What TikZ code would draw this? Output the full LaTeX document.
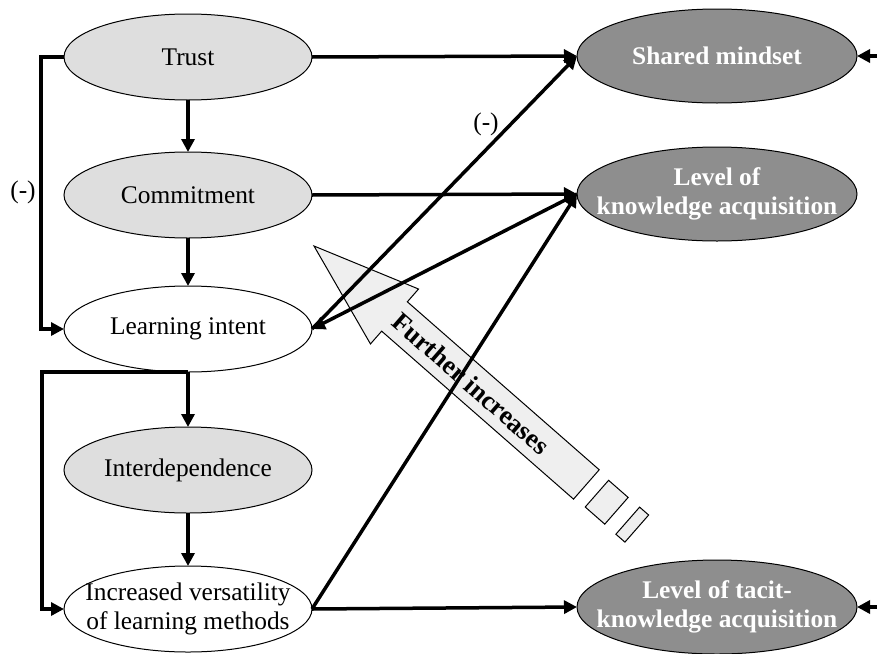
\documentclass[tikz,border=0pt]{standalone}
\usepackage{fontspec}
\setmainfont{Liberation Serif}
\usetikzlibrary{shapes.geometric,arrows.meta}
\definecolor{softgray}{HTML}{DEDEDE}
\definecolor{darkfill}{HTML}{8E8E8E}
\definecolor{bandfill}{HTML}{EFEFEF}
\begin{document}
\begin{tikzpicture}[x=0.5pt,y=-0.5pt,
  font=\fontsize{12.7}{14.5}\selectfont,
  oval/.style={ellipse, draw=black, line width=0.5pt, inner sep=0pt, outer sep=0pt},
  leftoval/.style={oval, minimum width=124pt, minimum height=43pt},
  rightoval/.style={oval, minimum width=140pt, minimum height=47pt, fill=darkfill},
  caption/.style={align=center, inner sep=0pt, text=black},
  wcaption/.style={align=center, inner sep=0pt, text=white, font=\fontsize{12.7}{14.5}\selectfont\bfseries},
  link/.style={line width=1.75pt, -{Triangle[length=6.5pt,width=6.5pt]}},
  band/.style={draw=black, line width=0.5pt, fill=bandfill, line join=miter},
]
\useasboundingbox (0,0) rectangle (877,653);

% left column
\node[leftoval, fill=softgray] (trust) at (188,57) {};
\node[caption] (trust-t) at (trust) {Trust};
\node[leftoval, fill=softgray] (commit) at (188,195) {};
\node[caption] (commit-t) at (commit) {Commitment};
\node[leftoval, fill=white] (intent) at (188,329) {};
\node[caption] (intent-t) at (intent) {Learning intent};
\node[leftoval, fill=softgray] (inter) at (188,470) {};
\node[caption] (inter-t) at (inter) {Interdependence};
\node[leftoval, fill=white] (vers) at (188,609) {};
\node[caption] (vers-t) at (vers) {Increased versatility\\of learning methods};

% right column
\node[rightoval] (mind) at (717,56) {};
\node[wcaption] (mind-t) at (mind) {Shared mindset};
\node[rightoval] (know) at (717,194) {};
\node[wcaption] (know-t) at (know) {Level of\\knowledge acquisition};
\node[rightoval] (tacit) at (717,607) {};
\node[wcaption] (tacit-t) at (tacit) {Level of tacit-\\knowledge acquisition};

\coordinate (mind-in) at (877,56);
\coordinate (tacit-in) at (877,607);

% broad "further increases" arrow
\begin{scope}[shift={(314,246)}, rotate=-41.2]
  \draw[band] (0,0) -- (107,-36.5) -- (107,-19.5) -- (362,-19.5)
    -- (362,19.5) -- (107,19.5) -- (107,36.5) -- cycle;
  \draw[band] (376,-17.75) rectangle (402,17.75);
  \draw[band] (417,-18) rectangle (429,18);
  \node[rotate=-41.2, inner sep=0pt, font=\fontsize{13.3}{15}\selectfont\bfseries]
    (band-t) at (209,0) {Further increases};
\end{scope}

% vertical chain
\draw[link] (trust) -- (commit);
\draw[link] (commit) -- (intent);
\draw[link] (intent.south) -- (inter.north);
\draw[link] (inter) -- (vers);

% feedback loops on the left
\draw[link, line join=miter] (trust.west) -- ++(-23,0) |- (intent.west);
\draw[link, line join=miter] (intent.south) -- ++(-146,0) |- (vers.west);

% links to the outcomes
\draw[link] (trust.east) -- (mind.west);
\draw[link] (commit.east) -- (know.west);
\draw[link] (intent.east) -- (mind.west);
\draw[link] (know.west) -- (intent.east);
\draw[link] (vers.east) -- (know.west);
\draw[link] (vers.east) -- (tacit.west);
\draw[link] (mind-in) -- (mind.east);
\draw[link] (tacit-in) -- (tacit.east);

% signs
\node[caption] (neg-left) at (23,192) {(-)};
\node[caption] (neg-mid) at (486,124) {(-)};
\end{tikzpicture}
\end{document}
